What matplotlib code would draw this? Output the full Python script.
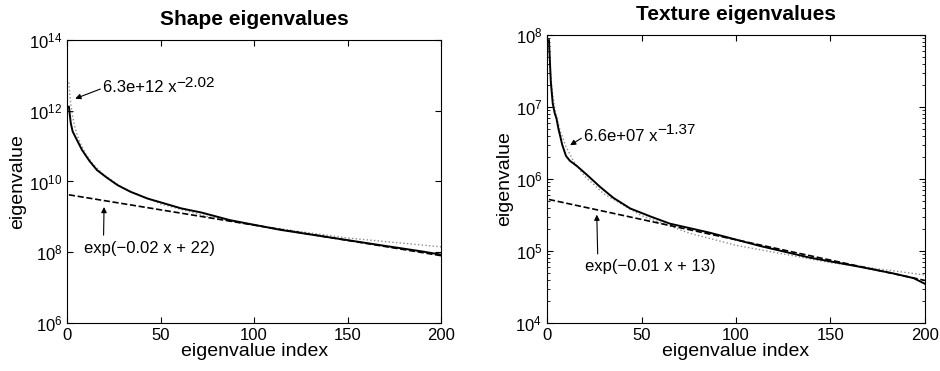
import matplotlib
matplotlib.use("Agg")
import matplotlib.pyplot as plt

plt.rcParams["font.family"] = ["Liberation Sans", "DejaVu Sans"]
plt.rcParams["mathtext.fontset"] = "custom"
plt.rcParams["mathtext.rm"] = "Liberation Sans"
plt.rcParams["mathtext.it"] = "Liberation Sans"

# shape eigenvalues
shape_idx = [1, 2, 3, 5, 6, 8, 12, 16, 21, 27, 34, 43, 52, 61, 72, 87, 114, 141, 167, 190, 198, 200]
shape_eig = [1.3e12, 4.5e11, 2.6e11, 1.6e11, 1.26e11, 7.8e10, 3.8e10, 2.1e10, 1.32e10, 7.9e9,
             5.1e9, 3.3e9, 2.4e9, 1.74e9, 1.32e9, 8.1e8, 4.3e8, 2.6e8, 1.6e8, 1.05e8, 8.9e7, 8.5e7]
shape_pow_idx = [1, 1.5, 2, 3, 4, 5, 7, 10, 14, 20, 30, 50, 75, 100, 150, 200]
shape_pow = [6.3e12, 2.78e12, 1.55e12, 6.85e11, 3.83e11, 2.44e11, 1.24e11, 6.0e10, 3.05e10,
             1.48e10, 6.5e9, 2.33e9, 1.03e9, 5.75e8, 2.53e8, 1.42e8]
shape_exp_idx = [1, 200]
shape_exp = [4.2e9, 8.0e7]

# texture eigenvalues
tex_idx = [1, 2, 3, 4, 5, 6, 7, 8, 10, 12, 16, 21, 28, 35, 44, 55, 65, 86, 113, 139, 166,
           183, 194, 200]
tex_eig = [8.5e7, 2.2e7, 1.12e7, 8.3e6, 6.9e6, 5.0e6, 3.9e6, 3.0e6, 2.1e6, 1.8e6, 1.5e6,
           1.15e6, 7.8e5, 5.5e5, 3.9e5, 3.0e5, 2.4e5, 1.8e5, 1.17e5, 8.1e4, 6.0e4, 4.9e4,
           4.2e4, 3.5e4]
tex_pow_idx = [1, 1.5, 2, 3, 4, 5, 7, 10, 14, 20, 30, 50, 75, 100, 150, 200]
tex_pow = [6.6e7, 3.79e7, 2.55e7, 1.47e7, 9.9e6, 7.3e6, 4.6e6, 2.82e6, 1.77e6, 1.09e6,
           6.25e5, 3.1e5, 1.78e5, 1.2e5, 6.9e4, 4.64e4]
tex_exp_idx = [1, 200]
tex_exp = [5.2e5, 3.9e4]

fig = plt.figure(figsize=(9.4, 3.71), dpi=100)
ax1 = fig.add_axes([0.0713, 0.1294, 0.398, 0.7628])
ax2 = fig.add_axes([0.582, 0.1294, 0.402, 0.776])


def draw(ax, idx, eig, pidx, pw, eidx, ex, title, ylim):
    ax.plot(pidx, pw, linestyle=":", color="0.55", lw=1.0)
    ax.plot(eidx, ex, "k--", lw=1.2)
    ax.plot(idx, eig, "k-", lw=1.4)
    ax.set_yscale("log")
    ax.set_xlim(0, 200)
    ax.set_ylim(*ylim)
    ax.set_xticks([0, 50, 100, 150, 200])
    ax.tick_params(direction="in", top=True, right=True, labelsize=12, length=4)
    ax.tick_params(which="minor", direction="in", right=True, length=2)
    ax.set_xlabel("eigenvalue index", fontsize=14, labelpad=0)
    ax.set_ylabel("eigenvalue", fontsize=14, labelpad=2)
    ax.set_title(title, fontsize=15, fontweight="bold", pad=11)


draw(ax1, shape_idx, shape_eig, shape_pow_idx, shape_pow, shape_exp_idx, shape_exp,
     "Shape eigenvalues", (1e6, 1e14))
ax1.set_yticks([1e6, 1e8, 1e10, 1e12, 1e14])
ax1.yaxis.set_minor_locator(matplotlib.ticker.NullLocator())

draw(ax2, tex_idx, tex_eig, tex_pow_idx, tex_pow, tex_exp_idx, tex_exp,
     "Texture eigenvalues", (1e4, 1e8))

arrow = dict(arrowstyle="-|>", color="k", lw=0.8, mutation_scale=8, shrinkA=0, shrinkB=0)


def power_label(ax, base, sup, tip, pos):
    t = ax.annotate(base, xy=tip, xytext=pos, fontsize=12, va="center", ha="left",
                    arrowprops=dict(arrow, relpos=(0.0, 0.5)))
    ax.annotate(sup, xy=(1.0, 0.5), xycoords=t, fontsize=11, va="bottom", ha="left")


power_label(ax1, "6.3e+12 x", "\u22122.02", (4.4, 2.2e12), (19.3, 4.4e12))
power_label(ax2, "6.6e+07 x", "\u22121.37", (12.2, 2.95e6), (19.6, 3.9e6))

ax1.annotate("exp(\u22120.02 x + 22)", xy=(19.8, 1.9e9), xytext=(44, 1.3e8),
             fontsize=12, va="center", ha="center",
             arrowprops=dict(arrow, relpos=(0.15, 1.0), shrinkA=2))
ax2.annotate("exp(\u22120.01 x + 13)", xy=(26.3, 3.2e5), xytext=(54.5, 6.0e4),
             fontsize=12, va="center", ha="center",
             arrowprops=dict(arrow, relpos=(0.1, 1.0), shrinkA=2))

fig.savefig("out.png", dpi=100)
